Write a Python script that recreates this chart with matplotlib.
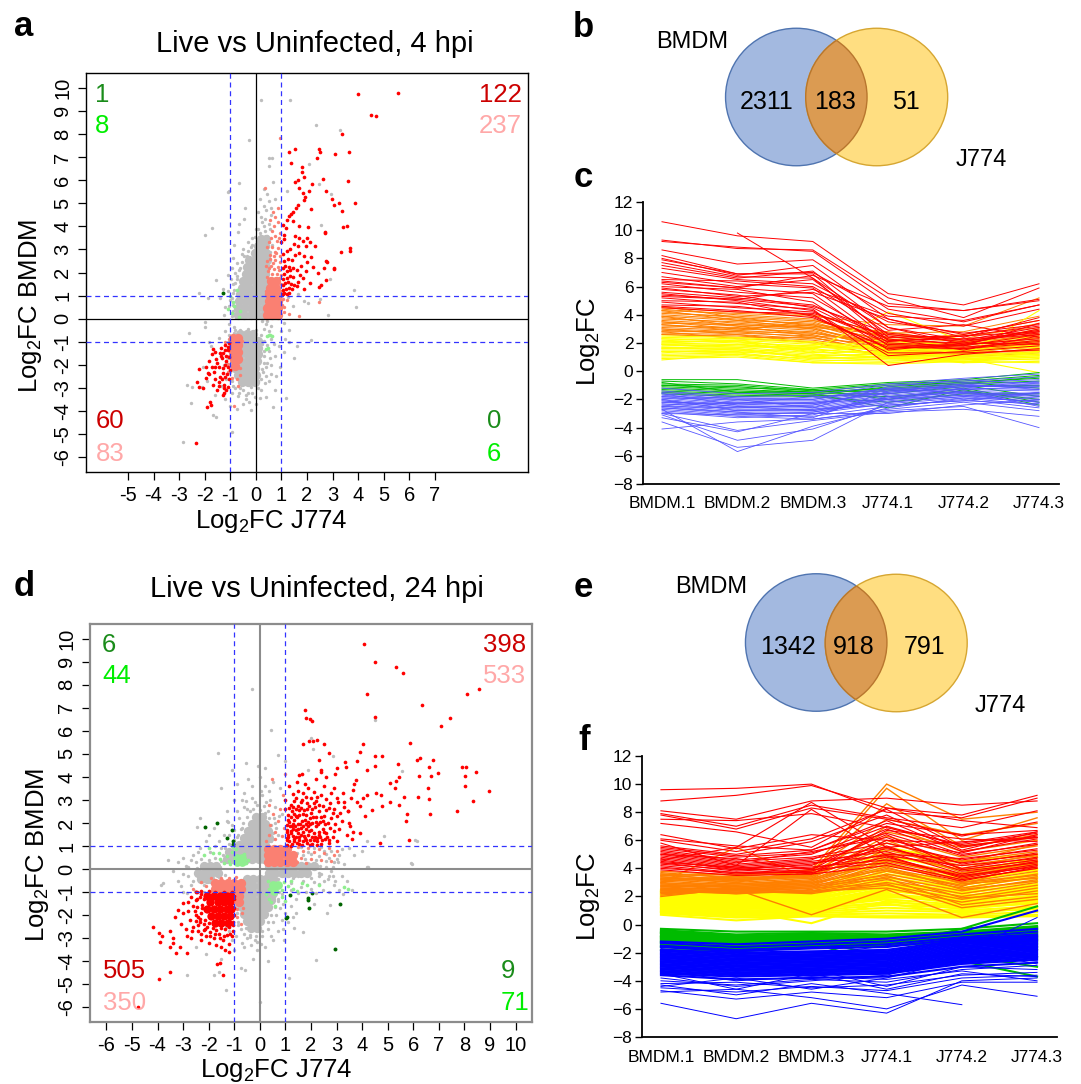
import numpy as np
import matplotlib.pyplot as plt
from matplotlib.patches import Ellipse

plt.rcParams['font.family'] = ['Liberation Sans', 'DejaVu Sans']
plt.rcParams['mathtext.fontset'] = 'custom'
plt.rcParams['mathtext.rm'] = 'Liberation Sans'
plt.rcParams['mathtext.it'] = 'Liberation Sans:italic'

W, H = 1081, 1084

# ---------------- panel a: 4 hpi scatter (Log2FC J774, Log2FC BMDM) ----------------
a_gray_core = [(-0.7,0.15),(-0.45,0.15),(-0.2,0.15),(0.05,0.15),(0.3,0.15),
    (-0.7,0.45),(-0.45,0.45),(-0.2,0.45),(0.05,0.45),(0.3,0.45),
    (-0.65,0.75),(-0.4,0.75),(-0.15,0.75),(0.1,0.75),(0.3,0.75),
    (-0.6,1.05),(-0.35,1.05),(-0.1,1.05),(0.15,1.05),(0.35,1.05),
    (-0.55,1.35),(-0.3,1.35),(-0.05,1.35),(0.2,1.35),(0.4,1.35),
    (-0.5,1.65),(-0.25,1.65),(0.0,1.65),(0.25,1.65),(0.4,1.65),
    (-0.4,1.95),(-0.15,1.95),(0.1,1.95),(0.35,1.95),
    (-0.35,2.25),(-0.1,2.25),(0.15,2.25),(0.4,2.25),
    (-0.25,2.55),(0.0,2.55),(0.25,2.55),(0.45,2.55),
    (-0.05,2.85),(0.2,2.85),(0.4,2.85),(0.1,3.15),(0.35,3.15),(0.2,3.45),(0.4,3.45),
    (-0.6,-0.65),(-0.35,-0.65),(-0.1,-0.65),
    (-0.8,-0.95),(-0.55,-0.95),(-0.3,-0.95),(-0.05,-0.95),(0.1,-0.95),
    (-0.85,-1.25),(-0.6,-1.25),(-0.35,-1.25),(-0.1,-1.25),(0.1,-1.25),
    (-0.85,-1.55),(-0.6,-1.55),(-0.35,-1.55),(-0.1,-1.55),(0.1,-1.55),
    (-0.85,-1.85),(-0.6,-1.85),(-0.35,-1.85),(-0.1,-1.85),(0.05,-1.85),
    (-0.8,-2.15),(-0.55,-2.15),(-0.3,-2.15),(-0.05,-2.15),
    (-0.7,-2.45),(-0.45,-2.45),(-0.2,-2.45),(0.0,-2.45),
    (-0.55,-2.75),(-0.3,-2.75),(-0.05,-2.75)]
a_gray = [(0.21,9.45),(1.35,9.48),(2.35,8.4),(3.3,8.18),(-0.27,7.72),(0.53,6.95),(0.62,6.97),
    (0.5,6.6),(0.66,5.9),(-0.64,5.87),(-1.09,5.5),(-1.03,5.52),(1.21,5.52),(2.09,6.71),(2.47,5.82),
    (2.95,5.4),(2.55,4.05),(-0.42,4.78),(-1.71,3.92),(-2.0,3.63),(3.84,1.24),(3.9,0.5),(2.83,0.14),
    (2.03,0.66),(2.5,0.85),(2.9,1.7),(2.16,-0.92),(1.31,-1.0),(1.51,-1.72),(1.12,-1.45),(0.66,-3.82),
    (1.16,-3.45),(0.4,-3.38),(-0.18,-3.96),(-0.94,-4.9),(-1.55,-4.25),(-1.68,-4.18),(-2.55,-3.67),
    (-2.71,-2.88),(-2.5,-2.95),(-2.62,-0.64),(-2.1,-2.95),(-1.87,0.88),(-2.22,1.1),(-1.97,-0.13),
    (-1.97,-0.36),(-2.84,-5.36),(-1.84,-1.0),(-1.55,1.68),(-0.9,2.62),(-1.1,1.9),(-0.85,3.2),
    (-0.7,3.75),(-0.6,2.2),(-0.55,2.8),(0.1,4.6),(0.35,4.3),(0.0,3.9),(-0.3,3.3),(0.5,5.1),(0.3,5.6),
    (0.65,3.2),(0.75,5.2),(1.65,1.05),(1.9,0.75),(1.45,0.55),(1.25,0.95),(1.1,-0.2),(1.3,-0.5),
    (1.15,-0.9),(0.9,-1.2),(0.75,-1.6),(0.95,-2.1),(0.6,-2.4),(0.35,-2.8),(0.75,-3.1),(0.2,-3.1),
    (-0.05,-3.4),(-0.3,-3.2),(-0.5,-3.1),(-0.7,-3.35),(-0.95,-3.2),(-1.2,-3.5),(-1.35,-2.9),
    (-1.6,-3.3),(-1.9,-2.7),(-2.05,-2.1),(-1.75,-1.2),(-1.45,-0.85),(-1.2,-0.55),(-1.05,-0.25),
    (-0.85,-0.35),(0.25,-0.1),(0.4,-0.25),(0.3,-0.45),(0.5,-0.55),(0.45,-0.1),(0.6,-0.3),
    (-0.9,1.5),(-1.0,0.8),(-1.2,0.5),(-1.4,0.9),(-0.8,2.0),(-0.75,1.7),(-0.95,2.2),(-0.5,3.0),
    (-0.35,2.7),(0.45,3.6),(0.55,3.9),(0.3,4.0),(0.15,3.7),(-0.15,3.5),(-1.25,0.15),(-1.3,1.3),
    (-0.65,4.1),(-0.45,4.3),(-1.1,-1.7),(-1.25,-2.0),(-1.15,-2.6),(0.25,-1.1),(0.3,-1.6),
    (0.25,-2.2),(0.45,-1.9),(-0.9,-2.9),(-0.6,-3.0),(-0.2,-2.95),(0.1,-2.7),(-0.8,-0.5),
    (1.0,-0.55),(1.6,-1.2),(-0.85,0.2),(-0.9,1.1),(-0.75,2.4),(0.55,2.9),(0.5,3.3),(-0.2,3.1),
    (0.05,3.35),(0.6,-0.9),(0.5,-1.4),(0.4,-2.5),(-1.0,-2.3),(-1.1,-1.3),(-0.4,-3.5),(0.0,-3.7),
    (-0.95,0.1),(-0.9,0.35),(-0.88,0.6),(-0.92,0.9),(-0.85,1.25),(-0.8,1.55),(-0.72,1.85),
    (-0.65,2.1),(-0.55,2.45),(-0.45,2.7),(-0.3,2.95),(-0.15,3.2),(-0.05,3.55),(0.1,3.9),(0.25,4.2),
    (-1.05,0.55),(-1.1,1.2),(-0.98,1.7),(0.2,4.4),(0.4,4.7),(0.3,4.9),(0.15,5.2),(0.45,5.4),
    (0.6,4.5),(-1.05,-0.7),(-1.1,-1.0),(-1.15,-1.9),(-1.05,-2.3),(-0.95,-2.7),(-0.8,-3.0),
    (-0.65,-3.2),(-0.4,-3.3),(-0.15,-3.2),(0.1,-3.0),(0.2,-2.6),(0.28,-2.3),(0.3,-1.9),(0.32,-1.4),
    (0.3,-0.95),(0.2,-0.7),(0.0,-0.5),(-0.3,-0.45),(-0.6,-0.5),(-0.85,-0.6),(0.45,-1.15),
    (0.55,-1.7),(0.4,-2.1),(0.6,-2.0),(0.5,-2.7),(-0.25,-3.6),(0.15,-3.45),(-0.5,-3.7),
    (-0.75,-3.9),(-1.0,-3.8),(0.8,-2.5),(0.7,-1.1),(0.35,3.8),(0.5,4.1),(0.6,4.8)]
a_salmon_core = [(0.45,0.15),(0.65,0.15),(0.85,0.15),(0.45,0.45),(0.65,0.45),(0.85,0.45),
    (0.5,0.75),(0.7,0.75),(0.85,0.75),(0.5,1.05),(0.7,1.05),(0.85,1.05),(0.55,1.35),(0.8,1.35),
    (0.6,1.65),(0.8,1.65),
    (-0.88,-0.85),(-0.7,-0.85),(-0.9,-1.15),(-0.7,-1.15),(-0.88,-1.45),(-0.7,-1.45),
    (-0.86,-1.75),(-0.68,-1.75),(-0.83,-2.05)]
a_salmon = [(0.94,7.82),(0.35,5.65),(0.68,4.62),(0.87,4.78),(0.74,4.42),(0.55,4.28),(0.87,4.2),
    (0.72,4.0),(0.94,3.7),(0.61,3.49),(0.81,3.35),(0.42,3.12),(0.74,2.9),(0.55,2.77),(0.94,2.7),
    (0.68,2.4),(0.87,2.25),(0.48,2.05),(1.0,1.9),(0.98,1.2),(1.02,0.6),(1.1,0.3),(0.95,0.1),
    (0.38,0.05),(1.05,0.85),(0.62,3.8),(0.85,3.05),(0.5,1.7),(1.1,0.5),(1.2,0.8),(1.3,0.2),
    (2.48,0.74),(1.7,0.1),(0.45,2.5),(0.95,2.45),(0.4,2.3),(0.38,0.6),(0.38,1.2),(0.42,1.8),
    (0.5,2.2),(0.6,2.3),(0.75,2.55),(0.9,2.1),(0.98,1.5),(1.0,1.0),(0.95,0.35),(0.7,2.7),
    (0.55,2.6),(0.8,2.85),(0.65,3.1),(0.5,3.3),(0.9,3.5),(0.75,3.6),(0.62,1.95),(0.82,1.95),
    (0.72,2.15),(0.9,1.75),
    (-0.86,-3.79),(-1.05,-0.9),(-0.6,-2.45),(-0.75,-2.6),(-1.1,-2.3),(-0.55,-0.95),
    (-0.95,-2.55),(-1.2,-1.0),(-0.7,-2.9),(-1.05,-1.6),(-1.08,-1.95),(-0.6,-2.15)]
a_red = [(4.0,9.73),(5.56,9.77),(4.52,8.83),(4.71,8.77),(3.35,8.0),(3.66,7.21),(3.10,7.15),
    (2.45,7.34),(2.52,7.23),(2.38,6.94),(1.53,7.37),(1.29,7.21),(1.39,6.76),(1.82,6.55),(1.79,6.37),
    (1.87,6.14),(1.64,6.01),(1.55,5.9),(2.18,5.85),(2.09,5.53),(1.86,5.43),(1.70,5.64),(2.64,6.04),
    (2.74,5.55),(3.61,5.98),(2.97,5.19),(3.04,4.93),(3.27,5.0),(3.38,4.65),(3.88,5.0),(3.40,3.99),
    (3.58,4.0),(3.70,3.05),(3.68,2.95),(3.31,2.89),(3.04,2.17),(2.78,2.47),(2.71,3.74),(2.74,1.68),
    (2.55,1.46),(2.48,1.36),(2.42,1.99),(2.17,4.74),(1.93,5.29),(1.88,5.12),(1.63,4.93),(1.56,4.79),
    (1.46,4.61),(1.39,4.52),(1.29,4.45),(1.2,4.28),(1.46,4.25),(1.69,4.0),(2.04,3.95),(1.17,3.92),
    (1.11,3.63),(2.30,3.15),(2.72,3.73),(2.67,2.18),(2.76,2.5),(3.06,2.18),
    (1.05,1.05),(1.12,1.1),(1.2,1.05),(1.28,1.12),(1.08,1.25),(1.18,1.3),(1.3,1.35),(1.42,1.3),
    (1.05,1.45),(1.15,1.55),(1.25,1.6),(1.38,1.5),(1.5,1.45),(1.62,1.4),(1.08,1.7),(1.2,1.78),
    (1.32,1.85),(1.45,1.8),(1.1,1.95),(1.22,2.05),(1.35,2.1),(1.05,2.2),(1.15,2.3),(1.3,2.25),
    (1.45,2.2),(1.6,2.1),(1.72,1.9),(1.85,1.75),(1.95,2.05),(1.78,2.3),(1.1,2.5),(1.25,2.6),
    (1.4,2.55),(1.08,2.8),(1.2,2.95),(1.35,3.0),(1.55,2.75),(1.7,2.85),(1.88,2.7),(2.0,2.45),
    (2.15,2.65),(2.25,2.25),(1.65,1.6),(1.9,1.3),(2.1,1.55),(1.0,3.3),(1.12,3.45),(1.06,4.05),
    (1.55,3.6),(1.7,3.5),(1.85,3.35),(2.0,3.5),(2.1,3.3),(1.95,3.15),(1.5,3.25),(1.65,3.15),
    (-1.69,-1.33),(-1.60,-1.43),(-1.41,-1.47),(-1.28,-1.50),(-1.20,-1.36),(-1.08,-1.24),(-1.21,-1.14),
    (-1.15,-1.60),(-1.04,-1.65),(-1.38,-1.62),(-1.34,-1.72),(-1.82,-1.82),(-1.93,-2.08),(-1.73,-2.08),
    (-1.60,-2.11),(-1.45,-2.08),(-1.28,-2.15),(-1.21,-2.01),(-1.08,-2.08),(-1.02,-2.22),(-1.11,-2.40),
    (-1.20,-2.51),(-1.41,-2.54),(-1.34,-2.63),(-1.25,-2.87),(-1.08,-2.95),(-1.15,-3.09),(-1.24,-3.24),
    (-1.43,-2.92),(-1.67,-2.87),(-1.82,-2.40),(-1.86,-2.34),(-2.23,-2.20),(-2.29,-2.74),(-2.21,-2.98),
    (-1.80,-3.61),(-1.77,-3.74),(-1.89,-3.84),(-2.32,-5.39),(-1.55,-1.75),(-1.5,-1.9),(-1.65,-2.3),
    (-1.3,-2.35),(-1.15,-1.85),(-1.05,-2.6),(-1.45,-2.75),(-1.6,-2.6),(-1.95,-2.55),(-1.1,-1.35),
    (-1.35,-1.25),(-1.7,-1.55),(-1.25,-3.0),(-1.05,-1.05),(-2.05,-3.0),(-1.5,-3.1),(-1.3,-3.3)]
a_lgreen = [(-0.73,1.24),(-0.91,0.74),(-1.08,0.4),(-0.63,0.35),(-0.92,0.26),(-0.66,0.09),(-1.0,1.0),
    (-0.85,0.55),(0.42,-0.74),(0.5,-0.72),(0.56,-0.7),(0.46,-1.29),(0.4,-1.32),(0.62,-0.75)]
a_dgreen = [(-1.28,1.1)]
a_xticks = [-5, -4, -3, -2, -1, 0, 1, 2, 3, 4, 5, 6, 7]

# ---------------- panel d: 24 hpi scatter ----------------
d_gray_core = [(-1.3,0.45),(-1.05,0.45),(-0.8,0.45),(-0.55,0.45),(-0.3,0.45),(-0.05,0.45),(0.15,0.45),
    (-1.2,0.75),(-0.95,0.75),(-0.7,0.75),(-0.45,0.75),(-0.2,0.75),(0.05,0.75),(0.2,0.75),
    (-0.8,1.05),(-0.55,1.05),(-0.3,1.05),(-0.05,1.05),(0.2,1.05),
    (-0.6,1.35),(-0.35,1.35),(-0.1,1.35),(0.15,1.35),(0.35,1.35),
    (-0.45,1.65),(-0.2,1.65),(0.05,1.65),(0.3,1.65),(-0.3,1.95),(-0.05,1.95),(0.2,1.95),
    (-0.15,2.25),(0.1,2.25),
    (0.35,0.15),(0.6,0.15),(0.85,0.15),(1.1,0.15),(1.35,0.15),(1.6,0.15),(1.85,0.15),(2.1,0.15),
    (0.35,-0.15),(0.6,-0.15),(0.85,-0.15),(1.1,-0.15),(1.35,-0.15),(1.6,-0.15),(1.85,-0.15),
    (-0.5,-0.45),(-0.25,-0.45),(0.0,-0.45),(0.25,-0.45),(0.5,-0.45),
    (-0.75,-0.75),(-0.5,-0.75),(-0.25,-0.75),(0.0,-0.75),(0.25,-0.75),(0.5,-0.75),
    (-0.75,-1.05),(-0.5,-1.05),(-0.25,-1.05),(0.0,-1.05),(0.25,-1.05),(0.5,-1.05),
    (-0.75,-1.35),(-0.5,-1.35),(-0.25,-1.35),(0.0,-1.35),(0.25,-1.35),(0.45,-1.35),
    (-0.7,-1.65),(-0.45,-1.65),(-0.2,-1.65),(0.05,-1.65),(0.3,-1.65),
    (-0.6,-1.95),(-0.35,-1.95),(-0.1,-1.95),(0.15,-1.95),(-0.5,-2.25),(-0.25,-2.25),(0.0,-2.25),
    (-0.35,-2.55),(-0.1,-2.55),
    (-2.2,0.15),(-1.95,0.15),(-1.7,0.15),(-2.4,-0.15),(-2.15,-0.15),(-1.9,-0.15),(-1.65,-0.15),
    (-2.3,-0.45),(-2.05,-0.45)]
d_gray = [(-0.32,7.8),(0.44,6.03),(-1.65,5.02),(-0.56,4.62),(-0.08,4.49),(0.21,4.37),(0.72,4.95),
    (0.97,4.7),(4.52,6.47),(4.19,0.1),(5.91,0.25),(6.08,1.26),(1.99,5.68),(2.08,5.2),(2.86,4.91),
    (5.57,4.26),(1.89,4.31),(4.19,1.2),(4.84,1.42),(6.14,1.2),(5.96,0.23),(4.21,0.09),
    (-1.3,2.5),(-1.0,3.0),(-0.6,3.3),(-0.3,3.6),(0.1,3.2),(0.4,3.0),(0.6,2.7),(0.8,3.5),(-0.8,2.2),
    (-1.1,1.9),(-0.5,2.6),(-0.2,2.9),(0.3,2.5),(0.55,2.2),(0.65,1.8),(0.85,2.4),(-1.4,1.5),
    (-1.6,1.2),(-1.2,1.1),(-0.9,1.4),(-0.7,1.8),(-1.5,3.5),(-0.9,3.7),(0.0,4.0),(0.5,3.8),
    (-1.1,4.3),(0.3,1.6),(0.5,1.3),(0.7,1.5),
    (-2.32,2.2),(-2.45,1.84),(-2.0,1.5),(-1.8,1.8),(-2.1,1.2),(-1.75,1.0),(-1.5,0.9),(-2.4,0.75),
    (-2.7,0.4),(-2.79,0.1),(-3.0,-0.2),(-2.6,-0.5),(-2.2,-0.7),(-1.95,-0.55),(-3.79,-0.62),
    (-3.85,-0.7),(-2.99,-0.98),(-2.85,-1.05),(-3.2,0.3),(-2.5,0.3),(-1.55,0.1),(-1.35,-0.25),
    (-1.32,-2.5),(-1.2,-2.7),(-0.95,-2.9),(-0.7,-3.2),(-0.6,-3.4),(-0.35,-3.3),(-0.1,-3.5),
    (0.2,-3.4),(-0.12,-3.15),(0.1,-2.9),(0.3,-2.6),(0.5,-2.3),(0.65,-2.0),(0.8,-1.7),(0.9,-2.6),
    (-0.59,-4.39),(-0.72,-4.3),(-1.32,-5.25),(-2.85,-4.6),(-1.8,-4.6),(-1.6,-4.45),(0.01,-5.76),
    (1.15,-4.75),(2.21,-3.95),(1.68,-2.72),(2.61,-1.92),(2.75,-1.55),(2.1,-1.5),(1.5,-1.05),
    (2.3,-0.65),(2.65,-0.45),(2.85,-0.3),(2.9,-0.7),(3.1,-0.9),(3.25,-1.1),(1.4,-1.9),(1.1,-2.3),
    (1.35,-2.55),(0.95,-3.1),(0.3,-4.0),(-0.25,-3.9),(-1.0,-3.5),(-1.5,-3.9),(-2.1,-3.7),
    (-2.5,-3.4),(1.7,0.6),(1.9,0.75),(2.1,0.9),(2.3,0.55),(2.5,0.8),(2.7,0.5),(2.9,0.3),(3.1,0.6),
    (2.6,0.1),(3.3,0.2),(2.8,-0.1),(2.4,-0.2),(3.5,0.9),(3.7,0.6),(4.0,0.8),(2.3,-0.3),(2.0,-0.4),
    (1.2,-0.6),(0.85,-1.1),(0.7,-1.3),(0.7,-0.6),(-1.25,2.05),(-0.55,2.95),(0.15,2.75),(0.35,3.4),
    (-0.4,-2.85),(0.45,-2.9),(-0.85,-2.45),(0.7,-2.7),(-1.1,-3.1),
    (-1.4,0.3),(-1.45,0.6),(-1.35,0.9),(-1.1,1.0),(-1.0,1.25),(-0.85,1.5),(-0.75,1.75),(-0.65,2.0),
    (-0.5,2.25),(-0.4,2.5),(-0.25,2.6),(0.0,2.55),(0.2,2.45),(0.35,2.2),(0.45,1.9),(0.5,1.55),
    (0.45,1.2),(-0.6,2.7),(-0.1,2.8),(0.25,2.9),(-1.2,1.5),(-1.0,1.7),(-1.3,2.1),(-0.9,2.5),
    (-0.3,3.1),(0.05,3.4),(-0.7,3.0),(0.2,3.6),(-0.45,3.9),(0.6,2.0),(0.75,2.3),
    (-3.2,-0.5),(-3.0,0.5),(-2.8,-0.3),(-2.6,0.6),(-2.5,-0.2),(-2.45,0.05),(-2.3,0.45),(-2.2,-0.35),
    (-2.0,0.4),(-1.85,-0.4),(-1.75,0.5),(-1.6,-0.35),(-1.5,0.35),(-2.7,-0.7),(-2.9,0.15),
    (-3.4,-0.1),(-3.6,0.4),(-2.35,0.9),(-1.95,0.75),(-2.55,-0.95),(-2.2,-1.0),(-3.1,-0.75),
    (1.3,-0.4),(1.5,-0.3),(1.7,-0.5),(1.9,-0.25),(2.1,-0.55),(2.3,-0.15),(2.5,-0.5),(2.7,-0.3),
    (2.95,-0.5),(3.2,-0.3),(1.6,-0.8),(1.8,-1.0),(2.0,-0.85),(2.2,-1.05),(2.45,-0.9),(2.7,-1.0),
    (1.4,-1.3),(2.35,0.15),(2.6,0.35),(2.85,0.1),(3.05,0.3),(3.4,-0.5),(3.6,-0.9),(1.2,-0.9),
    (-0.95,-1.6),(-0.9,-1.9),(-0.85,-2.3),(-0.75,-2.6),(-0.6,-2.8),(-0.4,-2.95),(-0.15,-2.9),
    (0.1,-2.7),(0.3,-2.3),(0.45,-2.0),(0.6,-1.65),(0.7,-1.4),(0.75,-1.0),(0.72,-0.45),(-0.55,-2.55),
    (0.2,-2.1),(0.4,-1.6),(0.55,-1.2),(0.9,-1.5),(1.0,-1.9),(1.2,-1.6),(-0.2,-3.1),(0.05,-3.25),
    (-0.5,-3.0),(0.5,-3.1),(0.85,-2.2),(1.3,-2.1),
    (1.45,0.7),(1.6,0.95),(1.75,0.45),(2.0,0.65),(2.2,0.4),(2.4,0.95),(2.6,0.65),(2.8,0.8),
    (3.0,0.45),(3.2,0.85)]
d_salmon_core = [(0.3,0.3),(0.55,0.3),(0.8,0.3),(1.05,0.3),(1.3,0.3),
    (0.3,0.6),(0.55,0.6),(0.8,0.6),(1.05,0.6),(1.3,0.6),
    (0.3,0.85),(0.55,0.85),(0.8,0.85),(1.05,0.85),
    (-1.75,-0.6),(-1.5,-0.6),(-1.25,-0.6),(-1.0,-0.6),(-0.75,-0.6),
    (-1.75,-0.85),(-1.5,-0.85),(-1.25,-0.85),(-1.0,-0.85),(-0.75,-0.85),
    (-0.82,-1.15),(-0.8,-1.45)]
d_salmon = [(1.5,0.95),(1.7,0.8),(1.9,0.9),(2.1,0.75),(2.3,0.85),(2.5,0.7),(2.7,0.9),(2.9,0.6),
    (1.6,0.5),(2.0,0.45),(2.4,0.4),(2.8,0.35),(3.0,0.8),(1.45,0.3),(1.8,0.25),(0.35,1.5),(0.6,1.6),
    (0.85,1.45),(0.4,1.9),(0.7,2.1),(0.95,1.8),(0.5,2.4),(0.8,2.6),(0.48,3.91),(0.98,4.13),
    (0.35,2.76),(0.9,3.2),(0.6,1.3),(0.25,1.2),
    (-2.3,-0.55),(-2.1,-0.75),(-1.95,-1.0),(-0.7,-1.9),(-0.9,-2.1),(-0.75,-2.4),(-0.95,-0.35),
    (-1.5,-0.4),(-2.6,-0.85),(-0.65,-1.7),(-1.9,-0.4),(-1.2,-0.38),(-0.9,-1.75)]
d_red_core = [(-2.05,-1.15),(-1.8,-1.15),(-1.55,-1.15),(-1.3,-1.15),(-1.12,-1.15),
    (-1.95,-1.45),(-1.65,-1.45),(-1.4,-1.45),(-1.15,-1.45),
    (-2.05,-1.75),(-1.8,-1.75),(-1.55,-1.75),(-1.3,-1.75),(-1.12,-1.75),
    (-1.9,-2.05),(-1.65,-2.05),(-1.4,-2.05),(-1.15,-2.05),
    (-1.75,-2.35),(-1.5,-2.35),(-1.25,-2.35)]
d_red = [(4.08,9.77),(4.49,8.97),(5.33,8.79),(5.6,8.5),(4.18,7.62),(8.1,7.61),(8.55,7.81),(6.35,7.14),
    (4.49,6.61),(7.43,6.56),(7.08,6.22),(1.76,6.9),(1.81,6.58),(1.97,6.52),(2.04,6.45),(1.69,5.41),
    (1.91,5.54),(2.08,5.58),(2.25,5.61),(2.51,5.45),(2.71,5.02),(2.32,4.73),(3.33,4.65),(3.37,4.41),
    (3.8,4.68),(4.02,5.42),(3.92,5.1),(4.52,4.93),(4.79,4.92),(4.2,4.31),(4.49,4.48),(5.4,4.58),
    (5.43,3.98),(5.88,5.48),(6.15,4.74),(6.26,4.82),(6.6,4.41),(6.76,4.73),(6.96,4.19),(6.22,4.06),
    (6.69,4.03),(7.92,4.44),(8.05,4.41),(8.01,4.05),(8.45,4.22),(8.02,3.59),(8.96,3.38),(8.33,2.96),
    (7.7,2.52),(2.92,4.12),(2.38,4.2),(1.65,4.11),(5.08,3.72),(5.33,3.83),(5.62,3.15),(5.27,3.51),
    (4.56,3.3),(4.79,2.72),(5.45,2.76),(5.08,2.9),(5.75,2.39),(5.73,2.08),(5.83,1.27),(6.67,2.39),
    (6.18,3.12),(6.59,3.51),(6.61,3.05),(4.74,3.2),(4.19,3.21),(4.05,3.08),(3.92,2.75),(3.78,2.9),
    (3.55,3.08),(3.7,3.7),(3.76,3.88),(3.63,3.44),(3.45,2.54),(3.29,2.93),(3.52,1.85),(3.66,1.62),
    (3.93,1.56),(4.69,1.13),(4.4,2.55),(4.1,2.3),
    (1.05,1.05),(1.15,1.2),(1.25,1.08),(1.35,1.3),(1.45,1.12),(1.55,1.25),(1.65,1.05),(1.75,1.35),
    (1.85,1.15),(1.95,1.28),(2.05,1.08),(2.15,1.4),(2.25,1.2),(2.4,1.1),(2.55,1.3),(2.7,1.15),
    (2.85,1.4),(3.0,1.2),(1.1,1.5),(1.2,1.65),(1.3,1.45),(1.4,1.7),(1.5,1.55),(1.6,1.8),(1.7,1.6),
    (1.8,1.75),(1.9,1.5),(2.0,1.7),(2.1,1.55),(2.2,1.85),(2.3,1.6),(2.45,1.75),(2.6,1.55),(2.75,1.8),
    (2.9,1.65),(3.1,1.75),(1.05,1.9),(1.15,2.05),(1.25,1.85),(1.35,2.15),(1.5,1.95),(1.65,2.1),
    (1.8,1.95),(1.95,2.2),(2.05,2.0),(2.2,2.25),(2.35,2.05),(2.5,2.3),(2.65,2.0),(2.8,2.2),
    (2.95,1.95),(3.2,2.1),(1.1,2.35),(1.25,2.5),(1.4,2.3),(1.55,2.55),(1.7,2.4),(1.85,2.6),(2.0,2.45),
    (2.15,2.7),(2.3,2.5),(2.45,2.75),(2.6,2.55),(2.75,2.85),(2.9,2.6),(3.05,2.9),(3.3,2.7),(1.2,2.8),
    (1.35,2.95),(1.5,2.75),(1.65,3.0),(1.85,2.85),(2.0,3.1),(2.2,2.95),(2.4,3.2),(2.6,3.05),(2.8,3.3),
    (3.0,3.1),(3.25,3.3),(1.3,3.25),(1.5,3.4),(1.7,3.3),(1.9,3.5),(2.1,3.35),(2.5,3.6),(2.9,3.5),
    (1.15,3.6),(1.45,3.8),(1.75,3.7),(2.2,3.9),(2.6,4.0),(1.55,4.1),(2.4,4.3),(3.0,4.4),(1.08,1.35),
    (1.2,1.0),(1.55,1.4),(1.95,1.05),(2.35,1.4),(1.7,1.2),(1.3,1.75),(1.45,2.25),(1.9,1.85),
    (2.25,1.35),(1.0,2.6),(1.0,3.0),(1.05,1.7),(2.55,1.95),(2.05,2.6),(3.15,2.45),(3.4,1.5),
    (3.5,2.0),(3.45,2.5),(3.6,1.3),
    (1.05,1.25),(1.12,1.4),(1.22,1.55),(1.32,1.2),(1.42,1.4),(1.52,1.1),(1.62,1.5),(1.72,1.45),
    (1.82,1.25),(1.92,1.65),(2.02,1.4),(2.12,1.25),(2.22,1.05),(2.32,1.5),(2.42,1.25),(2.52,1.6),
    (2.62,1.4),(2.72,1.25),(1.08,1.6),(1.18,1.85),(1.28,1.95),(1.38,1.85),(1.48,1.75),(1.58,1.95),
    (1.68,1.85),(1.78,2.15),(1.88,2.05),(1.98,1.95),(2.08,2.25),(2.18,2.05),(2.28,1.95),(2.38,2.25),
    (2.48,2.1),(1.12,2.15),(1.22,2.25),(1.32,2.4),(1.42,2.6),(1.52,2.35),(1.62,2.65),(1.72,2.55),
    (1.82,2.35),(1.92,2.75),(2.12,2.85),(2.32,2.8),(1.15,2.65),(1.28,2.7),(1.6,2.9),(1.4,3.1),
    (1.8,3.15),(2.25,3.15),(2.7,2.65),(2.85,2.45),(3.0,2.3),
    (-4.19,-2.5),(-3.96,-2.79),(-3.81,-2.9),(-3.92,-3.18),(-3.52,-3.37),(-3.39,-3.23),(-3.12,-3.37),
    (-2.85,-3.66),(-3.28,-3.66),(-3.96,-4.78),(-3.52,-4.49),(-1.69,-4.12),(-1.55,-4.09),(-1.44,-4.6),
    (-2.99,-1.49),(-2.79,-1.42),(-3.19,-1.78),(-2.99,-1.92),(-2.6,-1.6),(-2.45,-1.3),(-2.5,-2.0),
    (-2.35,-2.3),(-2.6,-2.5),(-2.4,-2.7),(-2.2,-2.65),(-2.1,-2.9),(-1.95,-2.75),(-1.8,-3.0),
    (-1.6,-2.8),(-1.45,-3.1),(-1.3,-2.85),(-1.2,-3.25),(-1.05,-2.7),(-1.5,-3.4),(-1.7,-3.3),
    (-2.0,-3.2),(-2.3,-3.1),(-2.7,-3.0),(-2.9,-2.6),(-2.75,-2.2),(-2.5,-1.0),(-2.3,-0.95),
    (-2.35,-1.2),(-1.1,-2.9),(-1.35,-3.5),(-1.2,-3.6),(-1.1,-1.0),(-1.4,-1.0),(-1.75,-1.0),
    (-2.0,-0.95),(-4.75,-5.97),(-2.45,-1.65),(-2.4,-2.1),(-1.05,-2.45),
    (-2.45,-1.0),(-2.5,-1.35),(-2.55,-1.8),(-2.5,-2.25),(-2.4,-2.45),(-2.3,-2.8),(-2.15,-2.6),
    (-2.25,-1.55),(-2.3,-1.9),(-2.35,-2.15),(-2.3,-1.1),(-2.2,-2.4),(-2.05,-2.5),(-1.85,-2.55),
    (-1.7,-2.65),(-1.5,-2.55),(-1.35,-2.6),(-1.2,-2.5),(-1.05,-2.3),(-1.95,-2.9),(-1.75,-2.8),
    (-1.55,-3.0),(-1.4,-2.9),(-1.15,-2.8),(-1.0,-1.3),(-1.02,-1.7),(-1.0,-2.0),(-2.7,-1.2),
    (-2.8,-1.8),(-2.65,-2.7),(-2.85,-2.9),(-3.1,-2.4),(-3.3,-2.1),(-3.5,-2.7),(-3.4,-3.0),
    (-2.2,-1.3),(-2.15,-2.2),(-2.25,-1.7),(-2.0,-2.35),(-1.95,-1.3),(-1.02,-1.15)]
d_lgreen_core = [(-0.9,0.3),(-0.7,0.3),(-0.9,0.5),(-0.7,0.5),(0.5,-0.7),(0.7,-0.7),(0.55,-0.95)]
d_lgreen = [(-2.0,0.9),(-1.85,0.7),(-1.6,0.7),(-1.55,0.45),(-1.3,0.55),(-1.2,0.35),(-1.1,0.75),
    (-1.05,0.95),(-1.15,0.2),(-0.6,0.65),(-0.55,0.25),(-0.95,0.85),(-2.2,0.6),(-0.45,0.4),(-1.4,0.25),
    (0.35,-1.3),(0.45,-1.45),(0.85,-1.2),(1.1,-0.75),(1.3,-0.85),(1.45,-0.95),(1.65,-0.6),(1.85,-0.7),
    (2.3,-0.7),(3.3,-0.8),(3.45,-0.85),(0.3,-0.5),(0.95,-0.55),(1.2,-0.5),(0.6,-1.6),(1.0,-1.4),
    (0.25,-1.1),(0.85,-0.9),(0.35,-0.85)]
d_dgreen = [(-2.14,1.82),(-1.69,2.02),(-1.28,1.34),(-1.09,1.69),(-1.03,1.23),(-1.03,1.1),
    (1.08,-2.1),(1.04,-2.14),(1.19,-1.13),(1.89,-1.27),(1.88,-1.35),(2.04,-1.06),(1.92,-1.71),
    (3.15,-1.52),(2.95,-3.47)]
d_xticks = [-6, -5, -4, -3, -2, -1, 0, 1, 2, 3, 4, 5, 6, 7, 8, 9, 10]

# ---------------- panels c and f: Log2FC profiles ----------------
samples = ['BMDM.1', 'BMDM.2', 'BMDM.3', 'J774.1', 'J774.2', 'J774.3']
nan = np.nan
c_red = [[10.6,9.6,9.2,5.5,4.7,6.2],[9.3,8.7,8.6,5.2,3.8,5.9],[9.2,8.8,8.5,4.8,4.3,5.1],
    [8.6,7.6,7.9,4.4,3.5,4.7],[8.2,6.9,7.0,4.1,3.2,4.4],[8.0,6.8,7.5,3.7,2.4,3.8],
    [7.9,6.9,6.9,2.4,2.5,3.2],[7.7,6.7,6.6,2.2,2.0,2.8],[7.5,6.6,7.1,3.1,1.9,3.0],
    [7.3,6.5,6.2,3.5,2.7,3.3],[7.0,6.2,5.9,2.0,1.8,2.6],[6.7,6.0,6.5,2.6,2.1,2.9],
    [6.5,6.4,6.0,2.9,3.3,2.4],[6.4,5.9,5.5,1.8,1.6,2.2],[6.2,5.6,5.2,2.2,2.3,2.7],
    [6.0,5.8,4.9,1.5,2.0,1.9],[5.9,5.3,5.6,3.7,2.6,3.6],[5.8,5.4,4.5,1.9,1.7,2.1],
    [5.6,5.2,4.7,2.3,1.5,2.5],[5.5,5.0,4.3,1.1,1.4,1.8],[5.3,5.1,4.6,2.7,2.2,3.1],
    [5.2,4.8,4.4,0.4,1.2,1.6],[5.0,4.9,3.9,1.6,1.9,2.3],[4.9,4.5,4.2,2.1,2.5,2.8],
    [4.7,4.6,4.0,1.3,1.3,1.5],[4.6,4.3,3.8,1.7,1.6,2.0],[4.5,4.2,4.1,2.5,1.8,3.4],
    [nan,9.8,6.6,3.1,2.2,2.6],[6.3,5.9,6.8,4.6,4.3,5.0],[5.4,5.1,5.8,3.9,3.6,4.7]]
c_orange = [[4.5,4.2,4.0,2.6,2.1,2.9],[4.4,4.0,3.7,2.3,1.9,2.5],[4.3,4.1,3.9,3.3,3.2,5.2],
    [4.2,3.8,3.5,2.0,1.7,2.2],[4.1,3.9,3.6,2.4,2.5,3.1],[4.0,3.7,3.3,1.8,1.6,2.0],
    [3.9,3.6,3.4,2.1,2.0,2.6],[3.8,3.4,3.1,1.6,1.5,1.9],[3.7,3.5,3.2,2.2,1.8,2.4],
    [3.6,3.3,3.0,1.9,1.6,2.1],[3.5,3.2,2.9,1.5,1.4,1.7],[3.4,3.3,3.1,2.6,2.3,3.4],
    [3.3,3.0,2.8,1.7,1.5,2.0],[3.2,3.1,2.7,2.0,1.9,2.3],[3.1,2.9,2.6,1.4,1.3,1.8],
    [3.0,2.8,2.7,1.8,1.7,2.2],[2.9,2.7,2.5,1.6,1.4,1.9],[2.8,2.8,2.4,1.3,1.2,1.6],
    [2.7,2.6,2.3,1.9,1.8,2.7],[2.6,2.5,2.2,1.5,1.3,1.5],[2.6,2.4,2.4,1.2,1.1,1.4],
    [3.5,3.0,3.3,2.8,2.0,3.0],[3.9,3.2,2.5,2.2,2.6,3.6],[4.3,3.6,3.0,1.7,1.5,2.4],
    [3.0,2.6,2.0,1.1,1.0,1.3],[2.8,2.3,2.1,1.0,1.2,1.5],[3.3,2.9,3.6,2.4,2.1,2.8],
    [4.6,3.8,3.2,2.7,2.8,3.9]]
c_yellow = [[2.5,2.4,2.1,1.6,1.4,1.8],[2.4,2.3,2.0,1.4,1.3,1.5],[2.3,2.2,1.9,1.8,1.6,2.1],
    [2.2,2.0,1.8,1.2,1.1,1.4],[2.1,2.1,1.7,1.5,1.5,1.7],[2.0,1.9,1.6,1.1,1.0,1.2],
    [1.9,1.8,1.5,1.3,1.2,1.6],[1.8,1.9,1.4,0.9,0.9,1.1],[1.7,1.7,1.3,1.4,1.3,1.9],
    [1.6,1.6,1.2,1.0,0.8,1.0],[1.5,1.5,1.1,1.2,1.1,1.3],[1.4,1.4,1.0,0.8,0.7,0.9],
    [1.3,1.6,0.9,1.1,1.0,1.2],[1.2,1.3,0.8,0.7,0.9,0.8],[1.1,1.2,0.7,0.9,0.6,0.7],
    [1.0,1.1,0.6,0.6,0.8,1.0],[0.9,1.0,0.6,0.5,0.7,0.6],[0.8,1.2,0.9,1.0,0.9,1.1],
    [2.0,2.2,1.5,4.2,2.1,1.6],[1.6,1.9,1.6,2.3,1.1,4.3],[1.9,1.7,1.8,1.6,0.9,-0.1],
    [2.3,2.1,1.3,2.0,1.9,2.5],[1.4,1.3,1.7,1.7,1.4,2.2],[1.7,1.5,1.0,1.3,0.6,1.4]]
c_green = [[-0.6,-0.6,-1.2,-0.8,-0.6,-0.1],[-0.7,-0.9,-1.3,-0.9,-0.7,-0.3],
    [-0.9,-1.0,-1.4,-1.0,-0.8,-0.5],[-1.0,-1.1,-1.5,-1.2,-0.9,-0.7],
    [-1.1,-1.3,-1.5,-1.4,-1.0,-1.8],[-1.2,-1.4,-1.6,-1.6,-1.1,-1.0],
    [-1.3,-1.5,-1.6,-2.6,-1.3,-2.4],[-1.4,-1.6,-1.7,-1.8,-1.4,-2.0],
    [-1.5,-1.7,-1.8,-2.2,-1.6,-1.6],[-1.6,-1.8,-1.7,-1.1,-0.8,-1.2],
    [-1.0,-1.2,-1.3,-2.0,-1.2,-2.2],[-0.8,-1.5,-1.4,-1.3,-0.9,-0.4]]
c_blue = [[-1.2,-1.6,-1.5,-0.9,-0.5,-0.2],[-1.4,-1.8,-1.7,-1.0,-0.7,-0.4],
    [-1.5,-1.9,-1.9,-1.2,-0.8,-0.6],[-1.6,-2.0,-2.0,-1.3,-0.9,-0.8],
    [-1.7,-2.1,-2.1,-1.4,-1.0,-1.0],[-1.8,-2.2,-2.2,-1.5,-1.1,-1.1],
    [-1.9,-2.3,-2.3,-1.6,-1.2,-1.3],[-2.0,-2.4,-2.4,-1.7,-1.3,-1.4],
    [-2.1,-2.5,-2.5,-1.8,-1.4,-1.6],[-2.2,-2.6,-2.6,-1.9,-1.5,-1.7],
    [-2.3,-2.7,-2.7,-2.0,-1.6,-1.9],[-2.4,-2.8,-2.8,-2.1,-1.7,-2.0],
    [-2.5,-2.9,-2.9,-2.2,-1.8,-2.2],[-2.6,-3.0,-3.0,-2.3,-1.9,-2.4],
    [-2.7,-3.1,-3.2,-2.5,-2.0,-2.6],[-2.8,-3.2,-3.4,-2.7,-2.2,-2.8],
    [-3.0,-4.2,-3.5,-2.9,-2.7,-3.2],[-3.1,-4.9,-4.1,-2.4,-2.1,-2.3],
    [-2.7,-5.7,-3.9,-2.6,-1.9,-2.1],[-3.6,-5.4,-4.9,-2.2,-1.8,-1.5],
    [-4.1,-3.6,-3.4,-2.8,-2.5,-4.0],[-3.3,-4.3,-3.0,-3.0,-2.4,-2.0],
    [-2.9,-3.3,-3.1,-1.8,-1.5,-1.8],[-1.9,-2.0,-2.6,-1.1,-0.6,-0.9],
    [-2.2,-2.3,-1.8,-1.6,-1.0,-1.2],[-1.6,-2.4,-2.2,-2.0,-1.4,-2.5],
    [-2.5,-2.6,-2.4,-1.3,-1.1,-0.9],[-2.0,-2.8,-2.7,-2.4,-2.1,-1.5],
    [-1.8,-1.9,-2.0,-1.2,-1.6,-1.7],[-2.4,-2.2,-2.3,-1.5,-0.9,-1.3],
    [-3.0,-3.1,-2.9,-2.0,-1.7,-2.2],[-2.1,-2.5,-2.8,-1.9,-1.2,-0.7],
    [-2.6,-2.9,-3.3,-1.4,-1.3,-1.1]]

f_red = [[9.6,9.7,10.0,8.0,7.6,9.0],[8.8,9.2,9.9,8.3,7.8,9.2],[8.1,7.5,8.8,9.0,8.5,8.8],
    [7.9,7.0,8.5,7.6,6.9,8.1],[7.8,6.8,8.3,7.5,6.3,7.3],[7.5,7.4,7.9,6.9,5.7,6.5],
    [7.2,6.6,5.5,8.3,7.4,6.9],[6.4,5.4,6.4,6.0,5.8,6.6],[6.0,5.2,6.1,8.2,5.5,6.3],
    [5.6,5.0,5.9,7.8,5.3,6.6],[5.5,4.9,5.3,7.4,5.2,6.1],[5.4,4.8,5.1,6.5,4.9,5.8],
    [5.3,4.6,5.0,7.0,5.6,6.2],[5.2,4.5,4.8,5.8,4.6,5.4],[5.1,4.4,5.2,6.2,4.3,5.1],
    [5.0,4.3,4.7,5.5,4.0,4.8],[4.9,4.2,4.6,6.8,5.0,5.7],[4.8,4.1,4.5,5.2,3.6,4.5],
    [4.7,4.0,4.4,4.9,3.3,4.2],[4.6,3.9,4.3,5.4,4.4,5.0],[4.5,4.0,4.2,6.4,3.9,4.6],
    [4.4,3.8,4.1,4.6,3.5,4.1],[4.3,3.9,4.0,5.0,4.7,5.3],[4.2,3.7,3.9,4.4,3.2,4.0],
    [4.1,3.6,3.8,5.6,3.8,4.4],[4.0,3.7,3.7,4.8,3.4,4.3],[3.9,3.5,3.6,4.2,3.1,4.1],
    [4.6,5.5,8.7,5.5,5.9,6.2],[5.8,4.2,8.2,4.9,4.2,4.7],[6.1,5.6,5.3,7.2,6.4,6.7],
    [4.4,4.1,3.6,6.0,5.1,6.4],[5.0,4.7,3.9,6.7,6.1,5.9]]
f_orange = [[3.8,3.5,3.9,10.0,7.5,8.0],[3.7,3.3,3.6,9.7,6.0,7.6],[3.6,3.4,3.8,8.6,5.6,6.2],
    [3.5,3.2,3.5,7.0,5.2,6.0],[3.4,3.1,3.4,6.3,4.8,5.6],[3.3,3.0,3.3,5.8,4.5,5.2],
    [3.2,2.9,3.2,5.3,4.2,4.9],[3.1,2.8,3.1,5.0,3.9,4.6],[3.0,2.7,3.0,4.7,3.6,4.4],
    [2.9,2.6,2.9,4.5,3.4,4.2],[2.8,2.5,2.8,4.3,3.2,4.0],[2.7,2.4,2.7,4.0,3.0,3.8],
    [2.6,2.3,2.6,3.8,2.8,3.6],[2.5,2.2,2.5,3.6,2.6,3.4],[2.4,2.2,2.4,3.4,2.4,3.2],
    [2.3,2.3,2.3,3.2,2.2,3.0],[2.2,2.4,2.2,3.0,2.0,2.8],[2.1,2.5,2.3,2.8,1.8,2.6],
    [2.0,2.6,2.4,2.6,1.6,2.4],[3.5,3.6,3.7,6.6,5.5,6.4],[3.3,3.2,3.5,6.0,4.0,5.0],
    [3.1,3.3,3.4,5.5,3.7,4.5],[2.9,2.9,3.1,4.9,3.0,3.5],[2.7,2.7,2.9,4.1,2.5,3.1],
    [2.5,2.6,2.8,3.5,1.9,2.2],[2.3,2.4,2.6,2.9,1.2,1.8],[2.4,2.5,0.7,2.5,0.5,1.5],
    [3.0,5.5,3.2,4.4,2.9,3.3],[3.4,3.0,3.9,7.5,6.4,7.2],[2.8,2.8,3.0,3.9,2.7,4.8],
    [3.6,3.1,3.6,5.1,4.4,5.7],[2.6,2.5,2.7,3.3,1.4,2.0],[3.2,3.4,3.3,4.6,3.5,4.3]]
f_yellow = [[2.5,2.2,2.3,4.6,3.6,4.8],[2.4,2.1,2.2,4.2,3.3,4.5],[2.3,2.0,2.1,3.9,3.0,4.0],
    [2.2,1.9,2.0,3.6,2.8,3.7],[2.1,1.8,1.9,3.3,2.6,3.4],[2.0,1.7,1.8,3.0,2.4,3.1],
    [1.9,1.6,1.7,2.8,2.2,2.9],[1.8,1.5,1.6,2.6,2.0,2.7],[1.7,1.4,1.5,2.4,1.9,2.5],
    [1.6,1.3,1.4,2.2,1.7,2.3],[1.5,1.2,1.3,2.0,1.6,2.1],[1.4,1.1,1.2,1.8,1.4,1.9],
    [1.3,1.0,1.1,1.6,1.3,1.7],[1.2,0.9,1.0,1.4,1.2,1.5],[1.1,0.8,0.9,1.2,1.0,1.3],
    [1.0,0.7,0.8,1.0,0.9,1.1],[0.9,0.6,0.7,0.8,0.7,0.9],[0.8,0.5,0.6,0.6,0.6,0.7],
    [0.7,0.3,0.6,0.5,0.5,0.6],[2.4,2.2,2.1,5.5,4.5,5.0],[2.2,1.8,1.7,4.9,3.9,4.3],
    [2.0,1.9,2.2,3.8,2.9,3.3],[1.8,1.7,1.9,3.4,2.5,3.6],[1.6,1.5,1.8,2.9,2.3,2.8],
    [1.4,1.3,1.6,2.5,1.8,2.4],[1.2,1.2,1.4,2.1,1.5,2.0],[1.0,1.0,0.1,1.7,1.1,1.6],
    [0.9,0.8,1.2,1.5,0.8,1.2],[2.3,2.0,1.9,2.7,1.9,2.6],[1.9,1.6,1.5,2.3,3.2,3.9],
    [1.5,1.4,1.3,1.9,2.1,2.2],[1.7,1.5,2.0,3.1,1.6,1.8]]
f_green = [[-0.3,-0.5,-0.5,-0.5,-0.3,0.1],[-0.4,-0.7,-0.6,-0.7,-0.5,-0.1],
    [-0.5,-0.8,-0.7,-0.8,-0.6,-0.2],[-0.6,-0.9,-0.8,-0.9,-0.7,-0.3],
    [-0.7,-1.0,-0.9,-1.0,-0.7,-0.4],[-0.8,-1.1,-1.0,-1.0,-0.8,-0.5],
    [-0.9,-1.2,-1.1,-1.1,-0.9,-0.6],[-1.0,-1.3,-1.2,-1.2,-0.9,-0.7],
    [-1.1,-1.4,-1.2,-1.2,-1.0,-0.8],[-1.2,-1.5,-1.3,-1.3,-1.0,-0.9],
    [-1.3,-1.6,-1.4,-1.3,-1.1,-1.0],[-1.4,-1.7,-1.5,-1.4,-1.1,-1.1],
    [-1.5,-1.8,-1.5,-1.4,-1.2,-1.2],[-1.6,-1.9,-1.6,-1.5,-1.2,-1.4],
    [-1.8,-1.9,-1.6,-1.5,-1.2,-1.6],[-0.6,-0.9,-1.0,-2.4,-2.2,-3.0],
    [-0.9,-1.1,-1.3,-2.9,-2.6,-3.7],[-1.0,-1.2,-1.4,-1.5,-0.3,1.3],
    [-0.5,-0.8,-0.9,-1.1,-1.5,-2.3],[-1.2,-1.4,-1.2,-0.9,-0.6,-0.2],
    [-0.8,-1.0,-0.7,-1.3,-1.0,-1.8]]
f_blue = [[-1.2,-1.4,-1.2,-1.0,-0.5,1.0],[-1.3,-1.6,-1.4,-1.2,-0.7,-0.3],
    [-1.5,-1.8,-1.6,-1.4,-0.9,-0.5],[-1.6,-1.9,-1.7,-1.6,-1.0,-0.7],
    [-1.8,-2.0,-1.9,-1.8,-1.1,-0.8],[-1.9,-2.1,-2.0,-1.9,-1.2,-0.9],
    [-2.0,-2.2,-2.1,-2.0,-1.3,-1.0],[-2.1,-2.3,-2.2,-2.1,-1.4,-1.1],
    [-2.2,-2.4,-2.3,-2.2,-1.5,-1.2],[-2.3,-2.5,-2.4,-2.3,-1.6,-1.3],
    [-2.4,-2.6,-2.5,-2.4,-1.7,-1.4],[-2.5,-2.7,-2.6,-2.5,-1.8,-1.5],
    [-2.6,-2.8,-2.7,-2.6,-1.9,-1.6],[-2.7,-2.9,-2.8,-2.7,-2.0,-1.7],
    [-2.8,-3.0,-2.9,-2.8,-2.1,-1.8],[-2.9,-3.1,-3.0,-2.9,-2.2,-1.9],
    [-3.0,-3.2,-3.1,-3.0,-2.3,-2.0],[-3.1,-3.3,-3.2,-3.1,-2.4,-2.1],
    [-3.2,-3.4,-3.3,-3.2,-2.5,-2.2],[-3.3,-3.5,-3.4,-3.3,-2.6,-2.3],
    [-3.4,-3.6,-3.5,-3.4,-2.7,-2.4],[-3.5,-3.7,-3.6,-3.5,-2.8,-2.5],
    [-3.6,-3.9,-3.8,-3.7,-3.0,-2.7]]
f_blue_out = [[-4.0,-4.3,-3.9,-4.1,-3.2,-2.9],
    [-4.2,-4.1,-4.5,-4.3,-3.6,-3.4],[-4.5,-4.8,-4.4,-4.7,-3.8,-3.6],
    [-4.7,-5.3,-4.8,-5.2,-4.1,-4.1],[-4.8,-4.6,-5.2,-6.0,-4.3,-5.1],
    [-5.6,-6.7,-5.6,-6.3,-4.0,-3.8],[-4.3,-5.0,-4.2,-4.9,-5.7,nan],
    [-3.8,-4.4,-4.0,-3.6,-2.2,-2.6],[-3.3,-4.0,-3.7,-3.9,-3.3,-4.0],
    [-2.9,-3.6,-3.2,-4.4,-3.0,-3.2],[-2.5,-3.3,-2.8,-3.3,-2.3,-0.9],
    [-2.2,-2.9,-2.6,-2.9,-1.8,-2.8],[-4.4,-3.8,-4.6,-3.8,-2.5,-2.0],
    [-3.5,-4.6,-3.5,-4.6,-3.5,-3.7],[-1.7,-2.3,-2.5,-2.2,-2.0,0.5],
    [-2.0,-2.6,-2.2,-1.5,-1.1,-1.9]]

# ---------------- Venn counts ----------------
venn_b = ['2311', '183', '51']
venn_e = ['1342', '918', '791']

fig = plt.figure(figsize=(W / 100, H / 100), dpi=100)


def px_axes(l, t, r, b):
    return fig.add_axes([l / W, 1 - b / H, (r - l) / W, (b - t) / H])


def pts(ax, arr, col, s, z):
    a = np.array(arr)
    ax.scatter(a[:, 0], a[:, 1], s=s, c=col, linewidths=0, zorder=z)


def scatter_panel(ax, xticks, gray_core, gray, sal_core, sal, red_core, red, lg_core, lg, dg,
                  box_col, zero_col, zero_lw):
    lim = (-6.64, 10.64)
    ax.set_xlim(lim)
    ax.set_ylim(lim)
    pts(ax, gray_core, '#bebebe', 45, 2)
    pts(ax, gray, '#bebebe', 6, 2)
    pts(ax, sal_core, '#fa8072', 45, 3)
    pts(ax, sal, '#fa8072', 6, 3)
    if red_core:
        pts(ax, red_core, '#ff0000', 36, 4)
    pts(ax, red, '#ff0000', 7, 4)
    if lg_core:
        pts(ax, lg_core, '#90ee90', 40, 4)
    pts(ax, lg, '#90ee90', 7, 4)
    pts(ax, dg, '#006400', 8, 4)
    ax.axhline(0, color=zero_col, lw=zero_lw, zorder=6)
    ax.axvline(0, color=zero_col, lw=zero_lw, zorder=6)
    for v in (-1, 1):
        ax.axhline(v, color='#3333ff', lw=0.9, ls=(0, (4, 3)), zorder=6)
        ax.axvline(v, color='#3333ff', lw=0.9, ls=(0, (4, 3)), zorder=6)
    ax.set_xticks(xticks)
    ax.set_xticklabels([str(t) for t in xticks])
    yt = list(range(-6, 11))
    ax.set_yticks(yt)
    ax.set_yticklabels([str(t) for t in yt], rotation=90, va='center')
    ax.tick_params(length=6, width=0.9, labelsize=14.5, pad=4)
    for s in ax.spines.values():
        s.set_color(box_col)
        s.set_linewidth(1.0 if box_col == 'black' else 1.6)


def line_panel(ax, groups):
    x = np.arange(1, 7)
    for data, col, lw in groups:
        for row in data:
            ax.plot(x, row, color=col, lw=lw, solid_joinstyle='miter')
    ax.set_xlim(0.748, 6.265)
    ax.set_ylim(-8, 12)
    ax.set_yticks(range(-8, 13, 2))
    ax.set_xticks(x)
    ax.set_xticklabels(samples)
    ax.spines['top'].set_visible(False)
    ax.spines['right'].set_visible(False)
    for s in ('left', 'bottom'):
        ax.spines[s].set_linewidth(1.3)
    ax.tick_params(axis='y', length=5, width=1.0, labelsize=12.5, pad=2)
    ax.tick_params(axis='x', length=0, labelsize=12.5, pad=9)


ax_a = px_axes(86, 73, 528, 472)
scatter_panel(ax_a, a_xticks, a_gray_core, a_gray, a_salmon_core, a_salmon, None, a_red,
              None, a_lgreen, a_dgreen, 'black', 'black', 0.9)

ax_d = px_axes(90, 624, 532, 1022)
scatter_panel(ax_d, d_xticks, d_gray_core, d_gray, d_salmon_core, d_salmon, d_red_core, d_red,
              d_lgreen_core, d_lgreen, d_dgreen, '#8c8c8c', '#8c8c8c', 1.5)

ax_c = px_axes(643, 202, 1059, 484)
line_panel(ax_c, [(c_orange, '#ff8000', 0.7), (c_yellow, '#ffff00', 0.8), (c_red, '#ff0000', 0.7),
                  (c_green, '#00bb00', 0.7), (c_blue, '#5555ff', 0.6)])

ax_f = px_axes(642, 756, 1057, 1037)
line_panel(ax_f, [(f_yellow, '#ffff00', 1.5), (f_orange, '#ff8000', 1.0), (f_red, '#ff0000', 0.8),
                  (f_green, '#00bb00', 1.5), (f_blue, '#0000ff', 1.5), (f_blue_out, '#0000ff', 0.7)])

# overlay in pixel coordinates for Venn diagrams and free text
ov = fig.add_axes([0, 0, 1, 1], facecolor='none')
ov.set_xlim(0, W)
ov.set_ylim(H, 0)
ov.axis('off')


def draw_venn(cb, cy, labels, name_pos, j_pos, xs, base):
    blue = Ellipse(cb, 141.5, 137.5, facecolor='#a3b9e0', edgecolor='#4f74b0', lw=1.0)
    yel = Ellipse(cy, 142, 137.5, facecolor='#ffde81', edgecolor='#d6a631', lw=1.0)
    ov.add_patch(blue)
    ov.add_patch(yel)
    mid = Ellipse(cy, 142, 137.5, facecolor='#db9b52', edgecolor='#b8762e', lw=1.0)
    ov.add_patch(mid)
    mid.set_clip_path(blue)
    rim = Ellipse(cb, 141.5, 137.5, facecolor='none', edgecolor='#b8762e', lw=1.0)
    ov.add_patch(rim)
    rim.set_clip_path(yel)
    ov.text(name_pos[0], name_pos[1], 'BMDM', fontsize=17, ha='center', va='baseline')
    ov.text(j_pos[0], j_pos[1], 'J774', fontsize=17, ha='center', va='baseline')
    for xx, lab in zip(xs, labels):
        ov.text(xx, base, lab, fontsize=18, ha='center', va='baseline')


draw_venn((796.3, 97), (876.7, 97), venn_b, (691.7, 48.3), (981.7, 165.7), [767, 835, 905.7], 109)
draw_venn((816.2, 642.5), (896.2, 643), venn_e, (711, 593), (1000.7, 711.7), [788.3, 854, 925], 654)

# panel letters
for lab, (x, y) in {'a': (24, 36), 'd': (24, 596), 'b': (583, 37), 'c': (583, 187),
                    'e': (583, 597), 'f': (584, 750)}.items():
    ov.text(x, y, lab, fontsize=25, fontweight='bold', ha='center', va='baseline')

# titles and axis labels
ov.text(155.7, 51.7, 'Live vs Uninfected, 4 hpi', fontsize=21, ha='left', va='baseline')
ov.text(150, 596.7, 'Live vs Uninfected, 24 hpi', fontsize=21, ha='left', va='baseline')
ov.text(31, 306, 'Log$_2$FC BMDM', fontsize=18.5, rotation=90, ha='center', va='center')
ov.text(38, 855, 'Log$_2$FC BMDM', fontsize=18.5, rotation=90, ha='center', va='center')
ov.text(271, 528, 'Log$_2$FC J774', fontsize=18.5, ha='center', va='baseline')
ov.text(276, 1077, 'Log$_2$FC J774', fontsize=18.5, ha='center', va='baseline')
ov.text(589, 341, 'Log$_2$FC', fontsize=18.5, rotation=90, ha='center', va='center')
ov.text(589, 896, 'Log$_2$FC', fontsize=18.5, rotation=90, ha='center', va='center')

# DE gene counts per quadrant
dk_green, lt_green, dk_red, lt_red = '#1a8c1a', '#00ee00', '#cc0000', '#ffa8a8'
counts = [('1', 95, 101.7, dk_green, 'left'), ('8', 95, 133, lt_green, 'left'),
          ('122', 522, 101.7, dk_red, 'right'), ('237', 522, 133, lt_red, 'right'),
          ('60', 96, 428, dk_red, 'left'), ('83', 96, 461, lt_red, 'left'),
          ('0', 487, 428, dk_green, 'left'), ('6', 487, 461, lt_green, 'left'),
          ('6', 102, 652, dk_green, 'left'), ('44', 102, 683, lt_green, 'left'),
          ('398', 483, 652, dk_red, 'left'), ('533', 483, 683, lt_red, 'left'),
          ('505', 103, 978, dk_red, 'left'), ('350', 103, 1010, lt_red, 'left'),
          ('9', 501, 978, dk_green, 'left'), ('71', 501, 1010, lt_green, 'left')]
for txt, x, y, col, ha in counts:
    ov.text(x, y, txt, fontsize=18.5, color=col, ha=ha, va='baseline')

fig.savefig('out.png', dpi=100)
